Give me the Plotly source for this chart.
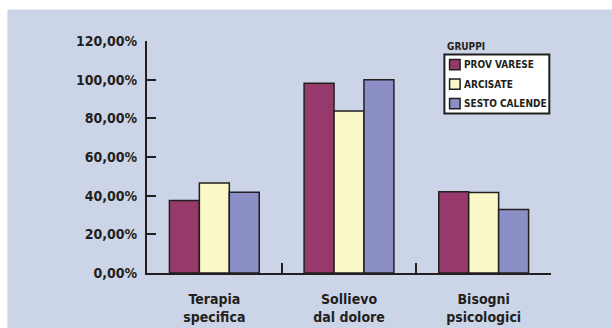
import plotly.graph_objects as go

# Categories and series values (percent)
categories = ["Terapia<br>specifica", "Sollievo<br>dal dolore", "Bisogni<br>psicologici"]
series_names = ["PROV VARESE", "ARCISATE", "SESTO CALENDE"]
prov_varese = [37.5, 98.2, 42.0]
arcisate = [46.6, 83.8, 41.7]
sesto_calende = [41.8, 100.0, 32.9]
tick_values = [0, 20, 40, 60, 80, 100, 120]
tick_labels = ["0,00%", "20,00%", "40,00%", "60,00%", "80,00%", "100,00%", "120,00%"]
legend_title = "GRUPPI"

colors = ["#953A6B", "#FAF7C8", "#8B8FC5"]
ink = "#231F20"
panel = "#CCD5E7"
font_family = "Liberation Sans Narrow, DejaVu Sans Condensed, Arial Narrow, sans-serif"

# Plot area in pixels
L, R, T, B = 146.7, 551.0, 40.6, 273.0
W, H = R - L, B - T


def px(x):
    return (x - L) / W


def py(y):
    return (B - y) / H


fig = go.Figure()
for name, values, color in zip(series_names, [prov_varese, arcisate, sesto_calende], colors):
    fig.add_trace(go.Bar(
        name=name, x=categories, y=values,
        marker=dict(color=color, line=dict(color=ink, width=1.5)),
        showlegend=False,
    ))

# White strips on the top and left edges of the light blue panel
fig.add_shape(type="rect", xref="paper", yref="paper", layer="below",
              x0=px(-5), x1=px(7), y0=py(340), y1=py(-5),
              fillcolor="white", line=dict(width=0))
fig.add_shape(type="rect", xref="paper", yref="paper", layer="below",
              x0=px(-5), x1=px(620), y0=py(9), y1=py(-5),
              fillcolor="white", line=dict(width=0))

# Legend: boxed key with the group title above it
fig.add_annotation(text=legend_title, xref="paper", yref="paper",
                   x=px(444.5), y=py(45.7), xanchor="left", yanchor="middle",
                   showarrow=False, font=dict(family=font_family, size=10, color=ink, weight="bold"))
fig.add_shape(type="rect", xref="paper", yref="paper",
              x0=px(444.3), x1=px(549.3), y0=py(113.3), y1=py(54),
              fillcolor="white", line=dict(color=ink, width=2))
for i, (name, color) in enumerate(zip(series_names, colors)):
    cy = 64.3 + 19.5 * i
    fig.add_shape(type="rect", xref="paper", yref="paper",
                  x0=px(449.5), x1=px(460), y0=py(cy + 5.2), y1=py(cy - 5.2),
                  fillcolor=color, line=dict(color=ink, width=1.5))
    fig.add_annotation(text=name, xref="paper", yref="paper",
                       x=px(461.5), y=py(cy), xanchor="left", yanchor="middle",
                       showarrow=False,
                       font=dict(family=font_family, size=10, color=ink, weight="bold"))

fig.update_layout(
    width=612, height=328,
    margin=dict(l=L, r=612 - R, t=T, b=328 - B),
    paper_bgcolor=panel, plot_bgcolor="rgba(0,0,0,0)",
    barmode="group", bargap=0.333, bargroupgap=0,
    font=dict(family=font_family, color=ink, weight="bold"),
    xaxis=dict(
        automargin=False,
        showline=True, linecolor=ink, linewidth=2,
        ticks="inside", tickson="boundaries", ticklen=10, tickwidth=2, tickcolor=ink,
        tickfont=dict(family=font_family, size=14, color=ink, weight="bold"),
        ticklabelstandoff=12,
        showgrid=False, zeroline=False,
    ),
    yaxis=dict(
        automargin=False,
        range=[0, 120], tickvals=tick_values, ticktext=tick_labels,
        showline=True, linecolor=ink, linewidth=2,
        ticks="inside", ticklen=9, tickwidth=2, tickcolor=ink,
        tickfont=dict(family=font_family, size=14, color=ink, weight="bold"),
        ticklabelstandoff=5,
        showgrid=False, zeroline=False,
    ),
)

fig.write_html("out.html")
